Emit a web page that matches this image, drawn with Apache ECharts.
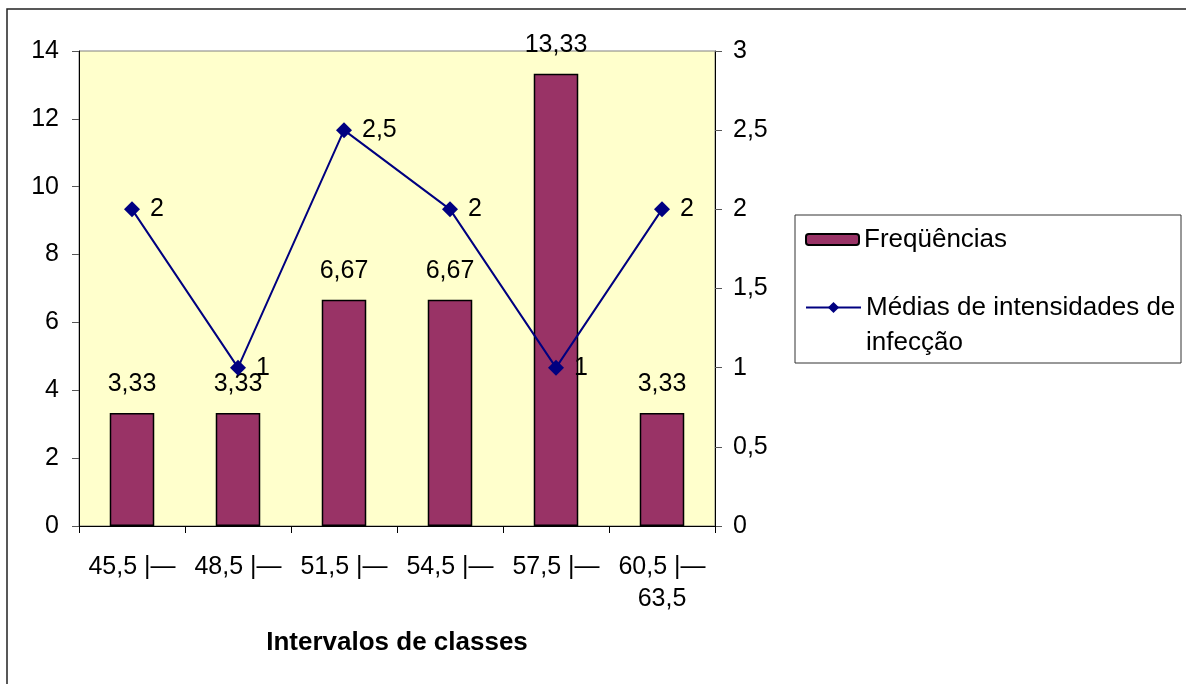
<!DOCTYPE html>
<html>
<head>
<meta charset="utf-8">
<script src="https://cdn.jsdelivr.net/npm/echarts@6/dist/echarts.min.js"></script>
<style>
html,body{margin:0;padding:0;background:#fff;}
#c{width:1186px;height:684px;}
</style>
</head>
<body>
<div id="c"></div>
<script>
const categories = ['45,5 |—', '48,5 |—', '51,5 |—', '54,5 |—', '57,5 |—', '60,5 |—\n63,5'];
const frequencias = [3.33, 3.33, 6.67, 6.67, 13.33, 3.33];
const medias = [2, 1, 2.5, 2, 1, 2];
const leftTicks = { min: 0, max: 14, interval: 2 };
const rightTicks = { min: 0, max: 3, interval: 0.5 };
const seriesNames = ['Freqüências', 'Médias de intensidades de infecção'];

const FONT = 'Liberation Sans, Arial, sans-serif';
const comma = v => String(v).replace('.', ',');

const chart = echarts.init(document.getElementById('c'));
chart.setOption({
  animation: false,
  backgroundColor: '#ffffff',
  textStyle: { fontFamily: FONT, color: '#000' },
  graphic: [
    { type: 'rect', z: -10, shape: { x: 7, y: 9, width: 1200, height: 700 },
      style: { fill: 'none', stroke: '#222', lineWidth: 1.5 } },
    { type: 'rect', z: -10, shape: { x: 795, y: 215, width: 386, height: 148 },
      style: { fill: '#fff', stroke: '#333', lineWidth: 1 } }
  ],
  grid: {
    left: 79, right: 471, top: 51, bottom: 158,
    show: true, backgroundColor: '#FFFFCC', borderColor: '#808080', borderWidth: 1
  },
  legend: [
    {
      data: [seriesNames[0]],
      left: 805, top: 226,
      padding: 0,
      itemWidth: 53, itemHeight: 11, itemGap: 0,
      textStyle: { fontFamily: FONT, fontSize: 26, color: '#000', lineHeight: 27 }
    },
    {
      data: [seriesNames[1]],
      left: 805, top: 255,
      padding: 0,
      itemWidth: 55, itemHeight: 14,
      formatter: () => ' \nMédias de intensidades de\ninfecção',
      textStyle: { fontFamily: FONT, fontSize: 26, color: '#000', lineHeight: 35 }
    }
  ],
  xAxis: {
    type: 'category',
    data: categories,
    axisLine: { lineStyle: { color: '#000', width: 1 } },
    axisTick: { show: true, inside: false, length: 7, lineStyle: { color: '#000' }, alignWithLabel: false },
    axisLabel: { fontFamily: FONT, fontSize: 25, color: '#000', margin: 25, lineHeight: 32, interval: 0 },
    name: 'Intervalos de classes',
    nameLocation: 'middle',
    nameGap: 104,
    nameTextStyle: { fontFamily: FONT, fontSize: 26, fontWeight: 'bold', color: '#000' }
  },
  yAxis: [
    {
      type: 'value', min: leftTicks.min, max: leftTicks.max, interval: leftTicks.interval,
      position: 'left',
      axisLine: { show: true, lineStyle: { color: '#000', width: 1 } },
      axisTick: { show: true, length: 7, lineStyle: { color: '#555' } },
      splitLine: { show: false },
      axisLabel: { fontFamily: FONT, fontSize: 25, color: '#000', margin: 20, formatter: comma }
    },
    {
      type: 'value', min: rightTicks.min, max: rightTicks.max, interval: rightTicks.interval,
      position: 'right',
      axisLine: { show: true, lineStyle: { color: '#000', width: 1 } },
      axisTick: { show: true, length: 7, lineStyle: { color: '#555' } },
      splitLine: { show: false },
      axisLabel: { fontFamily: FONT, fontSize: 25, color: '#000', margin: 18, formatter: comma }
    }
  ],
  series: [
    {
      name: seriesNames[0],
      type: 'bar',
      yAxisIndex: 0,
      data: frequencias,
      barWidth: '42%',
      itemStyle: { color: '#993366', borderColor: '#000', borderWidth: 1.5 },
      label: { show: true, position: 'top', distance: 16, fontFamily: FONT, fontSize: 25, color: '#000',
               formatter: p => comma(p.value) }
    },
    {
      name: seriesNames[1],
      type: 'line',
      yAxisIndex: 1,
      data: medias,
      symbol: 'diamond',
      symbolSize: 16,
      lineStyle: { color: '#000080', width: 2 },
      itemStyle: { color: '#000080' },
      label: { show: true, position: 'right', distance: 10, fontFamily: FONT, fontSize: 25, color: '#000',
               formatter: p => comma(p.value) },
      z: 5
    }
  ]
});
</script>
</body>
</html>
